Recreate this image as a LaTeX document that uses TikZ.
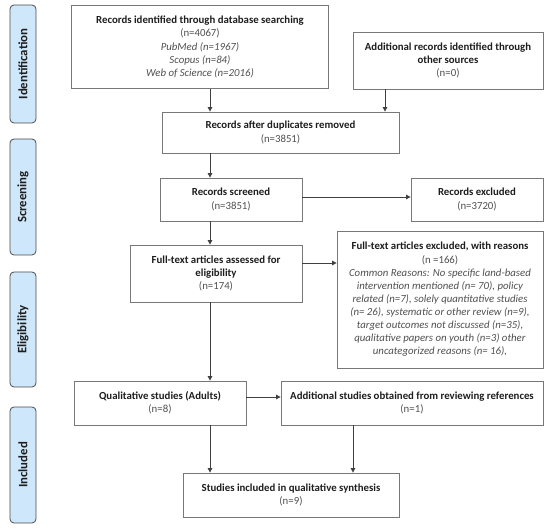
\documentclass[tikz,border=0pt]{standalone}
\usepackage{fontspec}
\setmainfont{Carlito}
\usetikzlibrary{arrows.meta}
\definecolor{sidefill}{RGB}{207,231,250}
\definecolor{boxline}{RGB}{120,120,120}
\definecolor{txtdark}{RGB}{30,30,30}
\definecolor{txtgray}{RGB}{80,80,80}
\tikzset{
  boxnode/.style={draw=boxline, line width=0.8pt, fill=white, align=center, inner sep=2pt,
    font=\fontsize{10.8}{13.1}\selectfont, text=txtgray},
  sidenode/.style={draw=black!70, line width=0.8pt, fill=sidefill, rounded corners=4pt,
    minimum width=26pt, rotate=90, font=\fontsize{12.8}{14}\selectfont\bfseries, text=txtdark},
  arr/.style={draw=black!75, line width=0.8pt, -{Triangle[width=4.5pt,length=4.5pt]}}
}
\newcommand{\hd}[1]{\textcolor{txtdark}{\textbf{#1}}}
\begin{document}
\begin{tikzpicture}[x=1pt,y=-1pt]
\useasboundingbox[fill=white] (0,0) rectangle (550,529);
% side labels
\node[sidenode, minimum width=118pt, minimum height=26pt] (s1) at (23,64) {Identification};
\node[sidenode, minimum width=116pt, minimum height=26pt] (s2) at (23,197) {Screening};
\node[sidenode, minimum width=115pt, minimum height=26pt] (s3) at (23,329.5) {Eligibility};
\node[sidenode, minimum width=116pt, minimum height=26pt] (s4) at (23,465) {Included};
% boxes
\node[boxnode, minimum width=257pt, minimum height=83pt] (b1) at (200,47)
 {\hd{Records identified through database searching}\\(n=4067)\\\textit{PubMed (n=1967)}\\\textit{Scopus (n=84)}\\\textit{Web of Science (n=2016)}};
\node[boxnode, minimum width=190pt, minimum height=57pt] (b2) at (448,60.5)
 {\hd{Additional records identified through}\\\hd{other sources}\\(n=0)};
\node[boxnode, minimum width=237pt, minimum height=41pt] (b3) at (280.5,132.5)
 {\hd{Records after duplicates removed}\\(n=3851)};
\node[boxnode, minimum width=142pt, minimum height=43pt] (b4) at (231,199.5)
 {\hd{Records screened}\\(n=3851)};
\node[boxnode, minimum width=132pt, minimum height=43pt] (b5) at (477,199.5)
 {\hd{Records excluded}\\(n=3720)};
\node[boxnode, minimum width=172pt, minimum height=57pt] (b6) at (216,273.5)
 {\hd{Full-text articles assessed for}\\\hd{eligibility}\\(n=174)};
\node[boxnode, minimum width=206pt, minimum height=137pt] (b7) at (440,299.5)
 {\hd{Full-text articles excluded, with reasons}\\(n =166)\\
 \textit{Common Reasons: No specific land-based}\\
 \textit{intervention mentioned (n= 70), policy}\\
 \textit{related (n=7), solely quantitative studies}\\
 \textit{(n= 26), systematic or other review (n=9),}\\
 \textit{target outcomes not discussed (n=35),}\\
 \textit{qualitative papers on youth (n=3) other}\\
 \textit{uncategorized reasons (n= 16),}};
\node[boxnode, minimum width=172pt, minimum height=44pt] (b8) at (160,403)
 {\hd{Qualitative studies (Adults)}\\(n=8)};
\node[boxnode, minimum width=262pt, minimum height=44pt] (b9) at (412,403)
 {\hd{Additional studies obtained from reviewing references}\\(n=1)};
\node[boxnode, minimum width=216pt, minimum height=44pt] (b10) at (291,495)
 {\hd{Studies included in qualitative synthesis}\\(n=9)};
% connector guides
\coordinate (cx) at (210,0);
\coordinate (cx2) at (385,0);
\coordinate (cx3) at (353,0);
\coordinate (cy1) at (0,197);
\coordinate (cy2) at (0,263);
\coordinate (cy3) at (0,397);
% connectors
\draw[arr] (b1.south -| cx) -- (b3.north -| cx);
\draw[arr] (b2.south -| cx2) -- (b3.north -| cx2);
\draw[arr] (b3.south -| cx) -- (b4.north -| cx);
\draw[arr] (b4.east |- cy1) -- (b5.west |- cy1);
\draw[arr] (b4.south -| cx) -- (b6.north -| cx);
\draw[arr] (b6.east |- cy2) -- (b7.west |- cy2);
\draw[arr] (b6.south -| cx) -- (b8.north -| cx);
\draw[arr] (b8.east |- cy3) -- (b9.west |- cy3);
\draw[arr] (b8.south -| cx) -- (b10.north -| cx);
\draw[arr] (b9.south -| cx3) -- (b10.north -| cx3);
\end{tikzpicture}
\end{document}
